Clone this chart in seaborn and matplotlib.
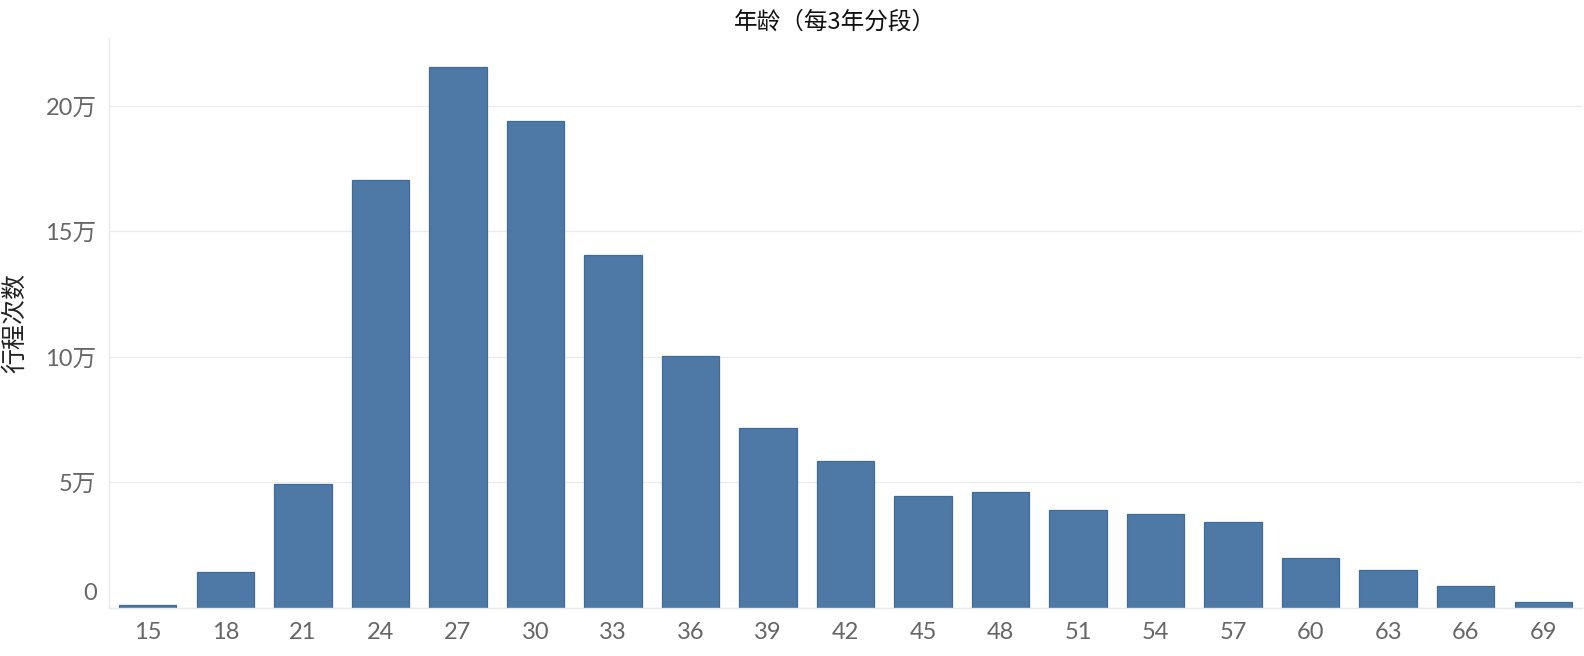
import matplotlib
matplotlib.use("Agg")
import matplotlib.pyplot as plt
import matplotlib.transforms as mtransforms
from matplotlib.ticker import FixedLocator
import seaborn as sns
import pandas as pd

# ---- data ----
age_bins = ["15", "18", "21", "24", "27", "30", "33", "36", "39", "42",
            "45", "48", "51", "54", "57", "60", "63", "66", "69"]
trip_counts = [1200, 14300, 49200, 170300, 215500, 194000, 140400, 100200,
               71500, 58700, 44800, 46000, 39000, 37300, 34100, 19800,
               15000, 8700, 2500]
y_ticks = [0, 50000, 100000, 150000, 200000]
y_tick_labels = ["0", "5万", "10万", "15万", "20万"]
title_text = "年龄（每3年分段）"
y_label_text = "行程次数"

df = pd.DataFrame({"age": age_bins, "count": trip_counts})

sns.set_theme(style="white")
plt.rcParams["font.family"] = ["Lato", "Noto Sans CJK SC", "DejaVu Sans"]

fig = plt.figure(figsize=(15.84, 6.56), dpi=100)
ax = fig.add_axes([109 / 1584, 1 - 608 / 656, (1582 - 109) / 1584, (608 - 38) / 656])

sns.barplot(data=df, x="age", y="count", order=age_bins, color="#4e79a7",
            saturation=1, width=0.74, edgecolor="#3d6a96", linewidth=0.9, ax=ax)

ax.set_xlim(-0.5, len(age_bins) - 0.5)
ax.set_ylim(0, 227000)

ax.yaxis.set_major_locator(FixedLocator(y_ticks))
ax.set_yticklabels(y_tick_labels)
ax.grid(axis="y", color="#ebebeb", linewidth=1.0)
ax.set_axisbelow(True)

for s in ["top", "right"]:
    ax.spines[s].set_visible(False)
ax.spines["left"].set_color("#e8e8e8")
ax.spines["left"].set_linewidth(1.0)
ax.spines["bottom"].set_color("#e8e8e8")
ax.spines["bottom"].set_linewidth(1.0)

ax.tick_params(axis="x", which="major", length=0, pad=10, labelsize=17, labelcolor="#666666")
ax.tick_params(axis="y", which="major", length=4, color="#ebebeb", pad=5,
               labelsize=17, labelcolor="#666666")
ax.xaxis.set_minor_locator(FixedLocator([i - 0.5 for i in range(len(age_bins) + 1)]))
ax.tick_params(axis="x", which="minor", length=7, width=1, color="#e8e8e8")

ax.set_xlabel("")
ax.set_ylabel(y_label_text, fontsize=18, color="#222222", labelpad=12,
              family=["Noto Sans CJK SC", "DejaVu Sans"])

# shift the "0" label upward like the reference
for lbl in ax.get_yticklabels():
    if lbl.get_text() == "0":
        lbl.set_transform(lbl.get_transform() +
                          mtransforms.ScaledTranslation(0, 16 / 100, fig.dpi_scale_trans))

fig.text(835 / 1584, 1 - 22 / 656, title_text, ha="center", va="center",
         fontsize=17, color="#111111", family=["Noto Sans CJK SC", "DejaVu Sans"])

fig.savefig("out.png", dpi=100)
